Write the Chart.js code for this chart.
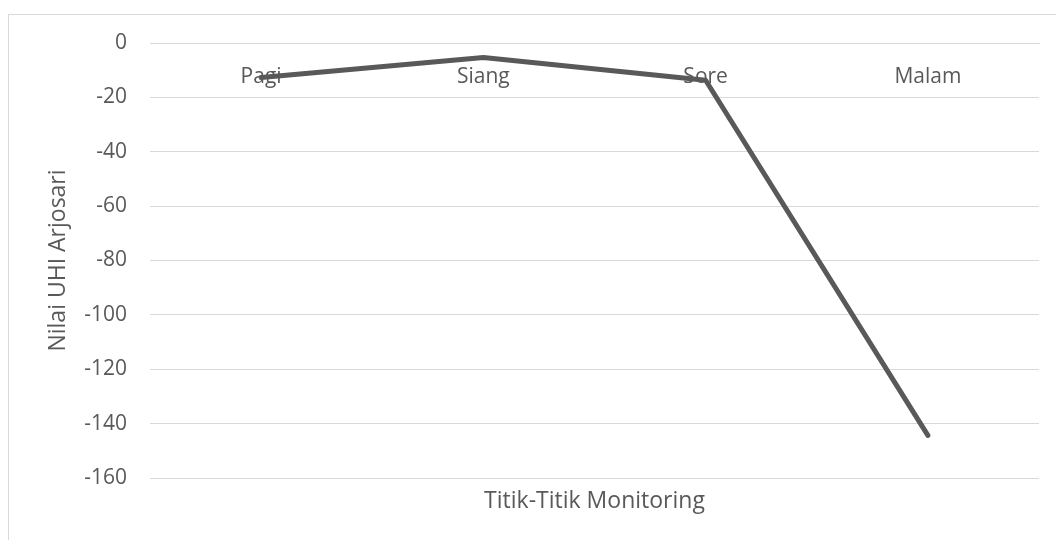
<!DOCTYPE html>
<html>
<head>
<meta charset="utf-8">
<script src="https://cdn.jsdelivr.net/npm/chart.js@4.4.0/dist/chart.umd.min.js"></script>
<style>
  html, body { margin: 0; padding: 0; background: #fff; }
  canvas { display: block; }
</style>
</head>
<body>
<canvas id="uhiChart" width="1056" height="540"></canvas>
<script>
// UHI Arjosari line chart

const categories = ['Pagi', 'Siang', 'Sore', 'Malam'];
const uhiValues = [-12.7, -5.3, -13.7, -144.3];
const yMin = -160;
const yMax = 0;
const yStep = 20;

const textColor = '#595959';
const gridColor = '#d9d9d9';
const fontFamily = '"Open Sans", "DejaVu Sans", sans-serif';

// light frame around the chart, like the Excel chart border
const frameBorder = {
    id: 'frameBorder',
    beforeDraw(chart) {
        const c = chart.ctx;
        c.save();
        c.strokeStyle = gridColor;
        c.lineWidth = 1;
        c.strokeRect(8.5, 14.5, 1200, 700);
        c.restore();
    }
};

const ctx = document.getElementById('uhiChart').getContext('2d');
new Chart(ctx, {
    type: 'line',
    data: {
        labels: categories,
        datasets: [{
            label: 'Nilai UHI Arjosari',
            data: uhiValues,
            borderColor: '#595959',
            backgroundColor: '#595959',
            borderWidth: 5,
            borderCapStyle: 'round',
            borderJoinStyle: 'round',
            pointRadius: 0,
            tension: 0,
            fill: false
        }]
    },
    options: {
        responsive: false,
        animation: false,
        layout: { padding: { left: 0, top: 43, right: 17, bottom: 0 } },
        plugins: {
            legend: { display: false },
            tooltip: { enabled: false }
        },
        scales: {
            x: {
                type: 'category',
                position: { y: 0 },
                offset: true,
                grid: { display: false, drawTicks: false },
                border: { display: true, color: gridColor, width: 1 },
                ticks: {
                    color: textColor,
                    padding: 21,
                    maxRotation: 0,
                    font: { family: fontFamily, size: 21 }
                }
            },
            x2: {
                type: 'category',
                labels: categories,
                position: 'bottom',
                offset: true,
                grid: { display: false, drawTicks: false },
                border: { display: false },
                ticks: { display: false },
                title: {
                    display: true,
                    text: 'Titik-Titik Monitoring',
                    color: textColor,
                    font: { family: fontFamily, size: 23 },
                    padding: { top: 0, bottom: 25 }
                },
                afterFit: (scale) => { scale.height = 62; }
            },
            y: {
                min: yMin,
                max: yMax,
                grid: { color: gridColor, lineWidth: 1, drawTicks: false },
                border: { display: false },
                ticks: {
                    stepSize: yStep,
                    color: textColor,
                    padding: 23,
                    font: { family: fontFamily, size: 21 }
                },
                title: {
                    display: true,
                    text: 'Nilai UHI Arjosari',
                    color: textColor,
                    font: { family: fontFamily, size: 23 },
                    padding: { top: 45, bottom: 0 }
                },
                afterFit: (scale) => { scale.width = 150; }
            }
        }
    },
    plugins: [frameBorder]
});
</script>
</body>
</html>
